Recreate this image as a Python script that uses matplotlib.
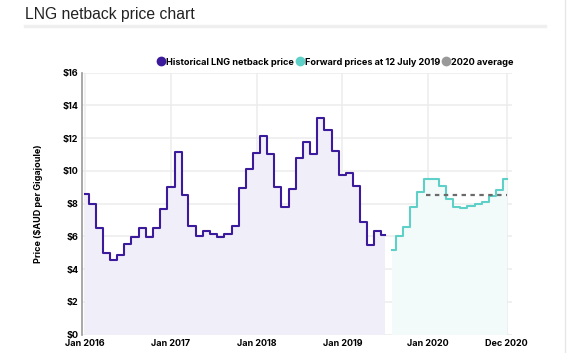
import matplotlib
matplotlib.use("Agg")
import matplotlib.pyplot as plt
from matplotlib.lines import Line2D
import numpy as np
import pandas as pd

# historical netback price, monthly, Jan 2016 - Jul 2019
hist_start = "2016-01-01"
hist_prices = [8.6, 8.0, 6.5, 5.0, 4.55, 4.85, 5.55, 5.95, 6.5, 5.95, 6.5, 7.7,
               9.0, 11.15, 8.55, 6.65, 6.0, 6.35, 6.15, 5.95, 6.15, 6.65, 8.95, 10.1,
               11.1, 12.15, 11.05, 9.0, 7.8, 8.9, 10.8, 11.75, 11.05, 13.2, 12.5, 11.2,
               9.75, 9.85, 9.1, 6.85, 5.45, 6.35, 6.1]

# forward prices at 12 July 2019, monthly, Aug 2019 - Dec 2020
fwd_start = "2019-08-01"
fwd_prices = [5.15, 6.05, 6.6, 7.8, 8.7, 9.5, 9.5, 9.1, 8.3, 7.8, 7.75, 7.85,
              7.95, 8.1, 8.45, 8.85, 9.5]

avg_2020 = 8.55
avg_span = ["2019-12-25", "2020-12-01"]

yticks = [0, 2, 4, 6, 8, 10, 12, 14, 16]
xtick_dates = ["2016-01-01", "2017-01-01", "2018-01-01", "2019-01-01", "2020-01-01", "2020-12-01"]
xtick_labels = ["Jan 2016", "Jan 2017", "Jan 2018", "Jan 2019", "Jan 2020", "Dec 2020"]

hist_col = "#3b1a9b"
fwd_col = "#5fd0c8"
avg_col = "#6b6b6b"
bold = "Inter"

hist_x = pd.date_range(hist_start, periods=len(hist_prices), freq="MS")
fwd_x = pd.date_range(fwd_start, periods=len(fwd_prices), freq="MS")

fig = plt.figure(figsize=(5.8, 3.53), dpi=100)
ax = fig.add_axes([0.1422, 0.0521, 0.7405, 0.7422])

# fills under the step lines
ax.fill_between(hist_x, hist_prices, 0, step="mid", color="#f0eef8", lw=0, zorder=1)
ax.fill_between(fwd_x, fwd_prices, 0, step="mid", color="#f2fbfa", lw=0, zorder=1)

ax.plot(hist_x, hist_prices, drawstyle="steps-mid", color=hist_col, lw=1.5, zorder=3)
ax.plot(fwd_x, fwd_prices, drawstyle="steps-mid", color=fwd_col, lw=1.5, zorder=3)
ax.plot(pd.to_datetime(avg_span), [avg_2020, avg_2020], color=avg_col, lw=1.6,
        ls=(0, (2, 2)), zorder=4)

ax.set_xlim(pd.Timestamp("2015-12-21"), pd.Timestamp("2020-12-23"))
ax.set_ylim(0, 16)
ax.set_yticks(yticks)
ax.set_yticklabels(["$" + str(v) for v in yticks], fontsize=6.5, fontweight="bold", family=bold)
ax.set_xticks(pd.to_datetime(xtick_dates))
ax.set_xticklabels(xtick_labels, fontsize=6.5, fontweight="bold", family=bold)
ax.tick_params(axis="x", length=0, pad=3)
ax.tick_params(axis="y", length=0, pad=3)
ax.grid(True, color="#ececec", lw=1.1, zorder=0)
ax.set_axisbelow(True)
for s in ["top", "right", "bottom"]:
    ax.spines[s].set_visible(False)
ax.spines["left"].set_color("#999999")
ax.spines["left"].set_linewidth(1.2)

ax.set_ylabel("Price ($AUD per Gigajoule)", fontsize=6.5, fontweight="bold",
              family=bold, labelpad=14)

handles = [
    Line2D([], [], marker="o", ls="", color=hist_col, markersize=6),
    Line2D([], [], marker="o", ls="", color=fwd_col, markersize=6),
    Line2D([], [], marker="o", ls="", color="#999999", markersize=6),
]
labels = ["Historical LNG netback price", "Forward prices at 12 July 2019", "2020 average"]
ax.legend(handles, labels, loc="center", bbox_to_anchor=(0.588, 1.04), ncol=3,
          frameon=False, handletextpad=0.0, columnspacing=0.2, handlelength=1.0,
          prop={"family": bold, "weight": "bold", "size": 6.6})

# header
fig.text(25 / 580, 1 - 14 / 353, "LNG netback price chart", fontsize=11.3,
         family="Liberation Sans", color="#222222", va="center", ha="left")
fig.add_artist(Line2D([25 / 580, 545 / 580], [1 - 26 / 353, 1 - 26 / 353],
                      color="#efefef", lw=2.5))
fig.add_artist(Line2D([565 / 580, 565 / 580], [0, 1], color="#e6e6e6", lw=1))

fig.savefig("out.png", dpi=100)
